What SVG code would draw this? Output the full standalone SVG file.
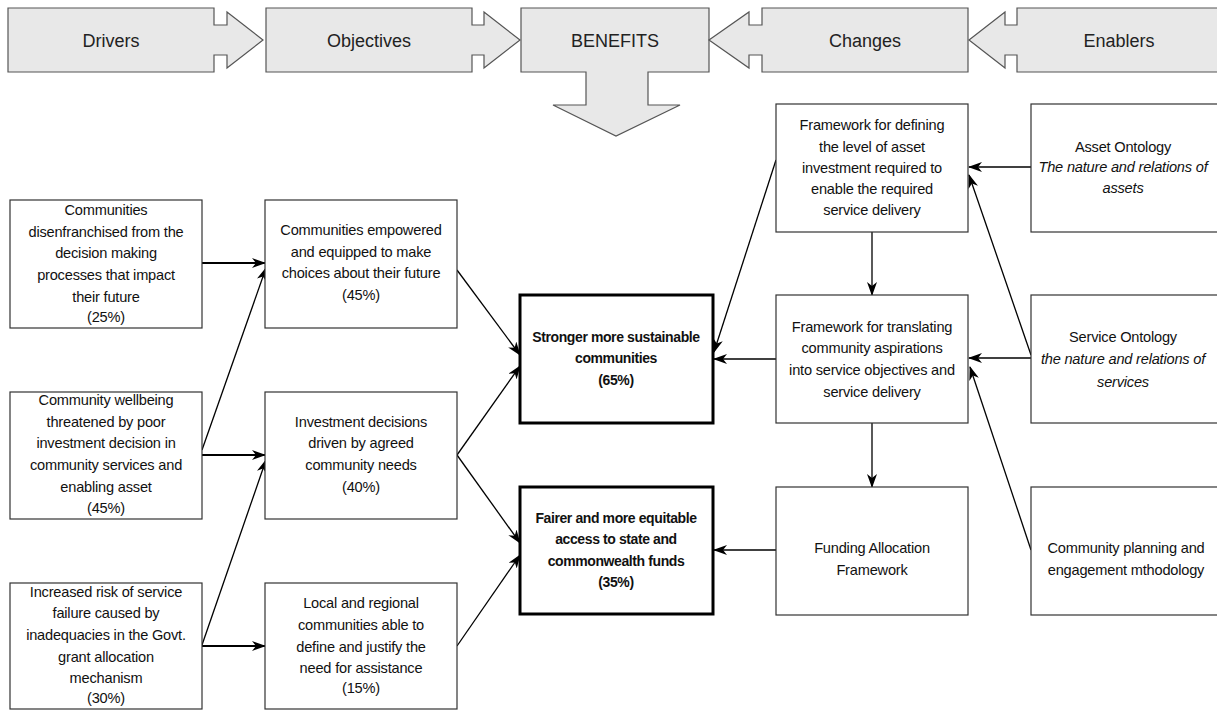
<svg xmlns="http://www.w3.org/2000/svg" width="1217" height="711" viewBox="0 0 1217 711">
<style>
.hdr{fill:#e8e8e8;stroke:#555;stroke-width:1.2}
.ht{font-family:"Liberation Sans",Arial,sans-serif;font-size:18px;fill:#222;text-anchor:middle}
.box{fill:#fff;stroke:#333;stroke-width:1.2}
.bbox{fill:#fff;stroke:#000;stroke-width:3}
.t{font-family:"Liberation Sans",Arial,sans-serif;font-size:14.6px;fill:#111;text-anchor:middle;letter-spacing:-0.2px}
.b{font-weight:bold;font-size:14px;letter-spacing:-0.4px}
.i{font-style:italic}
.c{stroke:#000;stroke-width:1.3;fill:none;marker-end:url(#ah)}
.ch{stroke:#000;stroke-width:2;fill:none;marker-end:url(#ah)}
</style>
<defs>
<marker id="ah" viewBox="0 0 14 10" refX="13" refY="5" markerWidth="14" markerHeight="10" markerUnits="userSpaceOnUse" orient="auto">
<path d="M0,0 L14,5 L0,10 L4,5 z" fill="#000"/>
</marker>
</defs>
<rect width="1217" height="711" fill="#fff"/>

<g id="header">
<g id="h-drivers"><path class="hdr" d="M8,8 H214 V25 H227 V12 L263,40 L227,68 V55 H214 V72 H8 Z"/><text class="ht" x="111" y="47">Drivers</text></g>
<g id="h-objectives"><path class="hdr" d="M266,8 H472 V25 H484 V12 L520,40 L484,68 V55 H472 V72 H266 Z"/><text class="ht" x="369" y="47">Objectives</text></g>
<g id="h-benefits"><path class="hdr" d="M521,8 H709 V72 H648 V105 H680 L616,136 L553,105 H586 V72 H521 Z"/><text class="ht" x="615" y="47">BENEFITS</text></g>
<g id="h-changes"><path class="hdr" d="M709,40 L749,12 V25 H762 V8 H968 V72 H762 V55 H749 V68 Z"/><text class="ht" x="865" y="47">Changes</text></g>
<g id="h-enablers"><path class="hdr" d="M969,40 L1005,12 V25 H1017 V8 H1222 V72 H1017 V55 H1005 V68 Z"/><text class="ht" x="1119" y="47">Enablers</text></g>
</g>

<g id="connectors">
<line class="ch" x1="202" y1="263" x2="265" y2="263"/>
<line class="c" x1="202" y1="450" x2="266" y2="268"/>
<line class="ch" x1="202" y1="455" x2="265" y2="455"/>
<line class="c" x1="202" y1="645" x2="266" y2="460"/>
<line class="ch" x1="202" y1="646" x2="265" y2="646"/>
<line class="c" x1="457" y1="270" x2="520" y2="355"/>
<line class="c" x1="457" y1="455" x2="520" y2="366"/>
<line class="c" x1="457" y1="455" x2="520" y2="543"/>
<line class="c" x1="457" y1="646" x2="520" y2="555"/>
<line class="c" x1="776" y1="359" x2="714" y2="359"/>
<line class="c" x1="776" y1="160" x2="714" y2="352"/>
<line class="c" x1="776" y1="550" x2="714" y2="550"/>
<line class="c" x1="872" y1="232" x2="872" y2="295"/>
<line class="c" x1="872" y1="423" x2="872" y2="487"/>
<line class="c" x1="1031" y1="167" x2="969" y2="167"/>
<line class="c" x1="1031" y1="355" x2="969" y2="175"/>
<line class="c" x1="1031" y1="358" x2="969" y2="358"/>
<line class="c" x1="1031" y1="550" x2="970" y2="367"/>
</g>

<g id="d1"><rect class="box" x="10" y="200" width="192" height="128"/>
<text class="t"><tspan x="106" y="215">Communities</tspan><tspan x="106" y="237">disenfranchised from the</tspan><tspan x="106" y="258">decision making</tspan><tspan x="106" y="280">processes that impact</tspan><tspan x="106" y="302">their future</tspan><tspan x="106" y="322">(25%)</tspan></text></g>
<g id="d2"><rect class="box" x="10" y="392" width="192" height="127"/>
<text class="t"><tspan x="106" y="405">Community wellbeing</tspan><tspan x="106" y="427">threatened by poor</tspan><tspan x="106" y="448">investment decision in</tspan><tspan x="106" y="470">community services and</tspan><tspan x="106" y="492">enabling asset</tspan><tspan x="106" y="513">(45%)</tspan></text></g>
<g id="d3"><rect class="box" x="10" y="583" width="192" height="126"/>
<text class="t"><tspan x="106" y="597">Increased risk of service</tspan><tspan x="106" y="618">failure caused by</tspan><tspan x="106" y="640">inadequacies in the Govt.</tspan><tspan x="106" y="662">grant allocation</tspan><tspan x="106" y="683">mechanism</tspan><tspan x="106" y="703">(30%)</tspan></text></g>

<g id="o1"><rect class="box" x="265" y="200" width="192" height="128"/>
<text class="t"><tspan x="361" y="235">Communities empowered</tspan><tspan x="361" y="257">and equipped to make</tspan><tspan x="361" y="278">choices about their future</tspan><tspan x="361" y="300">(45%)</tspan></text></g>
<g id="o2"><rect class="box" x="265" y="392" width="192" height="127"/>
<text class="t"><tspan x="361" y="427">Investment decisions</tspan><tspan x="361" y="448">driven by agreed</tspan><tspan x="361" y="470">community needs</tspan><tspan x="361" y="492">(40%)</tspan></text></g>
<g id="o3"><rect class="box" x="265" y="583" width="192" height="126"/>
<text class="t"><tspan x="361" y="608">Local and regional</tspan><tspan x="361" y="630">communities able to</tspan><tspan x="361" y="652">define and justify the</tspan><tspan x="361" y="673">need for assistance</tspan><tspan x="361" y="693">(15%)</tspan></text></g>

<g id="b1"><rect class="bbox" x="520" y="295" width="193" height="128"/>
<text class="t b"><tspan x="616" y="342">Stronger more sustainable</tspan><tspan x="616" y="363">communities</tspan><tspan x="616" y="385">(65%)</tspan></text></g>
<g id="b2"><rect class="bbox" x="520" y="487" width="193" height="127"/>
<text class="t b"><tspan x="616" y="523">Fairer and more equitable</tspan><tspan x="616" y="544">access to state and</tspan><tspan x="616" y="566">commonwealth funds</tspan><tspan x="616" y="587">(35%)</tspan></text></g>

<g id="c1"><rect class="box" x="776" y="104" width="192" height="128"/>
<text class="t"><tspan x="872" y="130">Framework for defining</tspan><tspan x="872" y="152">the level of asset</tspan><tspan x="872" y="173">investment required to</tspan><tspan x="872" y="194">enable the required</tspan><tspan x="872" y="215">service delivery</tspan></text></g>
<g id="c2"><rect class="box" x="776" y="295" width="192" height="128"/>
<text class="t"><tspan x="872" y="332">Framework for translating</tspan><tspan x="872" y="353">community aspirations</tspan><tspan x="872" y="375">into service objectives and</tspan><tspan x="872" y="397">service delivery</tspan></text></g>
<g id="c3"><rect class="box" x="776" y="487" width="192" height="128"/>
<text class="t"><tspan x="872" y="553">Funding Allocation</tspan><tspan x="872" y="575">Framework</tspan></text></g>

<g id="e1"><rect class="box" x="1031" y="104" width="192" height="128"/>
<text class="t"><tspan x="1123" y="152">Asset Ontology</tspan><tspan class="i" x="1123" y="172">The nature and relations of</tspan><tspan class="i" x="1123" y="193">assets</tspan></text></g>
<g id="e2"><rect class="box" x="1031" y="295" width="192" height="128"/>
<text class="t"><tspan x="1123" y="342">Service Ontology</tspan><tspan class="i" x="1123" y="364">the nature and relations of</tspan><tspan class="i" x="1123" y="387">services</tspan></text></g>
<g id="e3"><rect class="box" x="1031" y="487" width="192" height="128"/>
<text class="t"><tspan x="1126" y="553">Community planning and</tspan><tspan x="1126" y="575">engagement mthodology</tspan></text></g>
</svg>
